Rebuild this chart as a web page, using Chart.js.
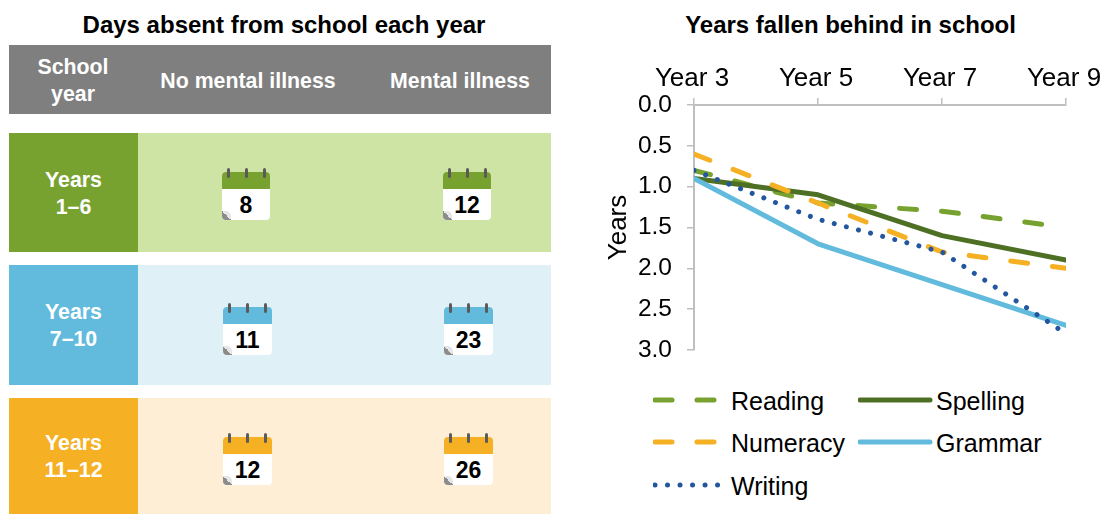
<!DOCTYPE html>
<html>
<head>
<meta charset="utf-8">
<script src="https://cdn.jsdelivr.net/npm/chart.js@4"></script>
<style>
    html, body { margin: 0; padding: 0; background: #fff; }
    body { position: relative; width: 1104px; height: 514px; overflow: hidden; font-family: "Liberation Sans", Arial, sans-serif; }
    .title { position: absolute; top: 11px; font-size: 24px; line-height: 28px; font-weight: bold; color: #000; text-align: center; white-space: nowrap; }
    .head { position: absolute; left: 9px; top: 45px; width: 542px; height: 69px; background: #7f7f7f; }
    .head div { position: absolute; color: #fff; font-weight: bold; font-size: 21.33px; line-height: 27px; text-align: center; white-space: nowrap; }
    .row { position: absolute; left: 9px; width: 542px; }
    .row .label { position: absolute; left: 0; top: 0; bottom: 0; width: 129px; color: #fff; font-weight: bold; font-size: 21.33px; line-height: 27px; display: flex; align-items: center; justify-content: center; text-align: center; }
    .row .label div { position: relative; top: 1px; }
    .row .rest { position: absolute; left: 129px; right: 0; top: 0; bottom: 0; }
    .cal { position: absolute; height: 48px; background: #fff; border-radius: 4px; overflow: hidden; }
    .cal .top { position: absolute; left: 0; right: 0; top: 0; height: 17px; }
    .cal .num { position: absolute; left: 0; right: 0; top: 17px; text-align: center; font-weight: bold; font-size: 23px; line-height: 32px; color: #000; }
    .cal .fold { position: absolute; left: 0; bottom: 0; width: 9px; height: 9px; background: linear-gradient(45deg, #8c8c8c 50%, #e6e6e6 50%); border-top-right-radius: 5px; }
    .ring { position: absolute; width: 3px; height: 10px; background: #5a5a5a; border-radius: 1.5px; }
    #chartBox { position: absolute; left: 600px; top: 50px; width: 504px; height: 320px; }
    #legend { position: absolute; left: 653px; top: 380px; }
    .leg { position: absolute; height: 28px; white-space: nowrap; font-size: 25px; line-height: 28px; color: #000; }
    .leg svg { position: absolute; left: 0; top: 0; }
    .leg span { position: absolute; top: 0; }
</style>
</head>
<body>
<div class="title" style="left:9px;width:550px;">Days absent from school each year</div>
<div class="title" style="left:600px;width:501px;">Years fallen behind in school</div>
<div class="head">
    <div style="left:0;width:128px;top:9px;">School<br>year</div>
    <div style="left:139px;width:200px;top:23px;">No mental illness</div>
    <div style="left:351px;width:200px;top:23px;">Mental illness</div>
</div>
<div id="rows"></div>
<div id="chartBox"><canvas id="yearsChart"></canvas></div>
<div id="legend"></div>

<script>
// table on the left
const schoolYears = ['Years<br>1–6', 'Years<br>7–10', 'Years<br>11–12'];
const noIllnessDays = [8, 11, 12];
const illnessDays = [12, 23, 26];

// line chart on the right
const yearLabels = ['Year 3', 'Year 5', 'Year 7', 'Year 9'];
const reading = [0.8, 1.2, 1.3, 1.5];
const spelling = [0.9, 1.1, 1.6, 1.9];
const numeracy = [0.6, 1.2, 1.8, 2.0];
const grammar = [0.9, 1.7, 2.2, 2.7];
const writing = [0.8, 1.4, 1.8, 2.8];

const rowStyles = [
    { top: 133, height: 119, dark: '#78a22f', light: '#cde4a5', calTop: 172, calLeft: [222, 443], calWidth: 48 },
    { top: 265, height: 120, dark: '#62bbdc', light: '#dff0f7', calTop: 307, calLeft: [223, 444], calWidth: 49 },
    { top: 398, height: 116, dark: '#f5b024', light: '#fdeed5', calTop: 437, calLeft: [223, 444], calWidth: 49 }
];

function calendar(value, color, left, top, width) {
    const rings = [6, 24, 42].map(x => `<div class="ring" style="left:${left + x - 1.5}px;top:${top - 4}px;"></div>`).join('');
    return `<div class="cal" style="left:${left}px;top:${top}px;width:${width}px;">
        <div class="top" style="background:${color}"></div>
        <div class="num">${value}</div><div class="fold"></div></div>${rings}`;
}

let rowsHtml = '';
schoolYears.forEach((label, i) => {
    const s = rowStyles[i];
    rowsHtml += `<div class="row" style="top:${s.top}px;height:${s.height}px;">
        <div class="rest" style="background:${s.light}"></div>
        <div class="label" style="background:${s.dark}"><div>${label}</div></div></div>`;
    rowsHtml += calendar(noIllnessDays[i], s.dark, s.calLeft[0], s.calTop, s.calWidth);
    rowsHtml += calendar(illnessDays[i], s.dark, s.calLeft[1], s.calTop, s.calWidth);
});
document.getElementById('rows').innerHTML = rowsHtml;

const axisColor = '#bfbfbf';
const fontFamily = '"Liberation Sans", Arial, sans-serif';
const seriesList = [
    { label: 'Reading', data: reading, color: '#78a22f', dash: [17, 25], width: 5 },
    { label: 'Spelling', data: spelling, color: '#4e7024', dash: [], width: 5 },
    { label: 'Numeracy', data: numeracy, color: '#f5b024', dash: [17, 25], width: 5 },
    { label: 'Grammar', data: grammar, color: '#62bbdc', dash: [], width: 5 },
    { label: 'Writing', data: writing, color: '#22579f', dash: [0.01, 12.5], width: 5 }
];

new Chart(document.getElementById('yearsChart').getContext('2d'), {
    type: 'line',
    data: {
        labels: yearLabels,
        datasets: seriesList.map((s, i) => ({
            label: s.label,
            data: s.data,
            borderColor: s.color,
            backgroundColor: s.color,
            borderWidth: s.width,
            borderDash: s.dash,
            borderCapStyle: 'round',
            borderJoinStyle: 'round',
            pointRadius: 0,
            tension: 0,
            clip: 0,
            order: seriesList.length - i
        }))
    },
    options: {
        responsive: true,
        maintainAspectRatio: false,
        animation: false,
        layout: { padding: { left: 0, right: 38, top: 0, bottom: 20 } },
        plugins: { legend: { display: false }, tooltip: { enabled: false } },
        scales: {
            x: {
                position: 'top',
                offset: false,
                afterFit: function (scale) {
                    scale.height = 55;
                    // keep the plot edges where they are, labels may overhang
                    scale.paddingLeft = 0;
                    scale.paddingRight = 0;
                },
                border: { color: axisColor, width: 2 },
                grid: { drawOnChartArea: false, color: axisColor, lineWidth: 1.5, tickLength: 7 },
                ticks: {
                    color: '#000',
                    font: { family: fontFamily, size: 26 },
                    maxRotation: 0,
                    autoSkip: false,
                    labelOffset: -2,
                    padding: 4
                }
            },
            y: {
                reverse: true,
                min: 0,
                max: 3,
                afterFit: function (scale) {
                    scale.width = 94;
                    scale.paddingTop = 0;
                    scale.paddingBottom = 0;
                },
                border: { color: axisColor, width: 2 },
                grid: { drawOnChartArea: false, color: axisColor, lineWidth: 1.5, tickLength: 7 },
                title: {
                    display: true,
                    text: 'Years',
                    color: '#000',
                    font: { family: fontFamily, size: 26 },
                    padding: { top: 3, bottom: 0 }
                },
                ticks: {
                    color: '#000',
                    font: { family: fontFamily, size: 24.5 },
                    stepSize: 0.5,
                    padding: 15,
                    callback: function (v) { return v.toFixed(1); }
                }
            }
        }
    }
});

// legend in two columns, built from the same series
const legendSlots = [[0, 7], [205, 7], [0, 49], [205, 49], [0, 92]];
const legendLineWidth = [67, 72, 67, 72, 67];
const textLeft = [78, 283, 78, 283, 78];
document.getElementById('legend').innerHTML = seriesList.map((s, i) => {
    const [x, y] = legendSlots[i];
    const w = legendLineWidth[i];
    const dash = s.dash.length ? `stroke-dasharray="${s.dash.join(' ')}"` : '';
    return `<div class="leg" style="left:${x}px;top:${y}px;">
        <svg width="80" height="28"><line x1="2" y1="13" x2="${w}" y2="13" stroke="${s.color}" stroke-width="${s.width}" stroke-linecap="round" ${dash}/></svg>
        <span style="left:${textLeft[i] - x}px">${s.label}</span></div>`;
}).join('');
</script>
</body>
</html>
